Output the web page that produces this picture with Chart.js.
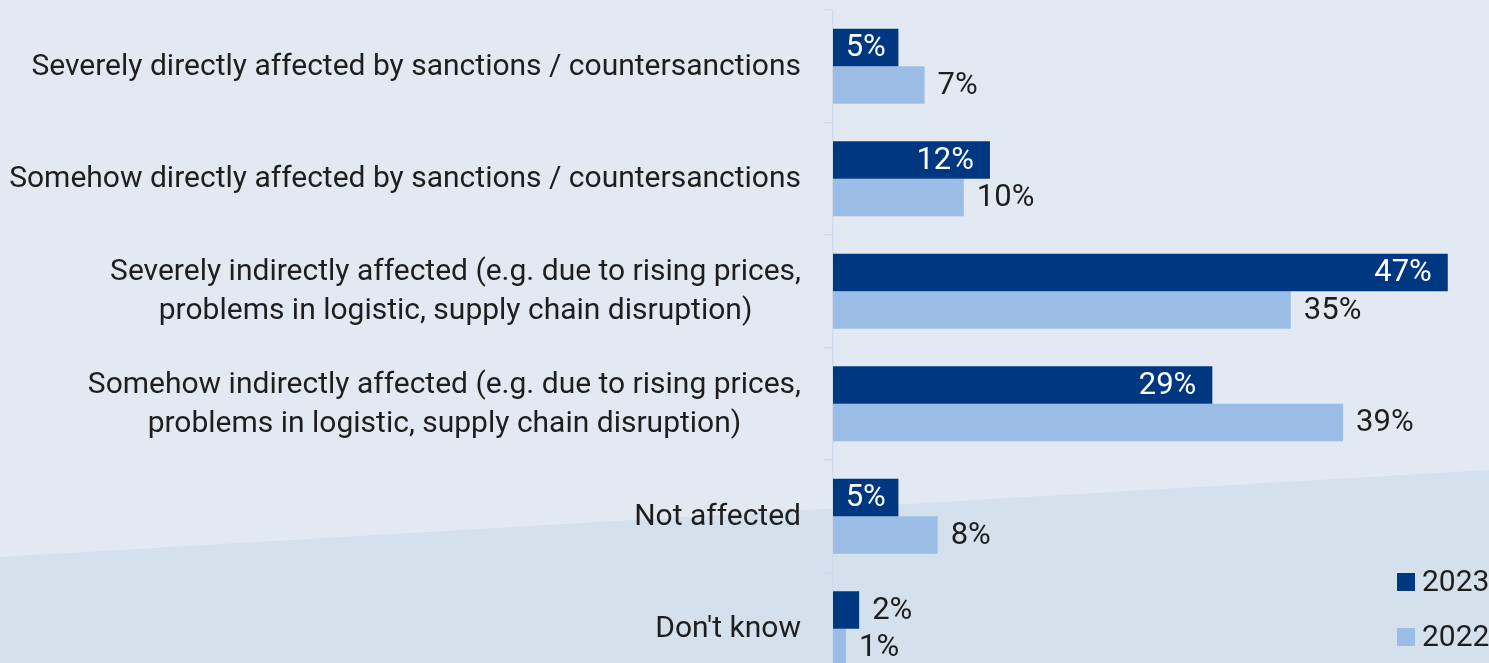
<!DOCTYPE html>
<html>
<head>
<meta charset="utf-8">
<script src="https://cdn.jsdelivr.net/npm/chart.js@4/dist/chart.umd.min.js"></script>
<style>
  html, body { margin: 0; padding: 0; overflow: hidden; background: #e3e9f3; }
  #wrap { position: relative; width: 1489px; height: 690px; }
</style>
</head>
<body>
<div id="wrap"><canvas id="impactChart"></canvas></div>
<script>
const categories = [
    'Severely directly affected by sanctions / countersanctions',
    'Somehow directly affected by sanctions / countersanctions',
    ['Severely indirectly affected (e.g. due to rising prices,', 'problems in logistic, supply chain disruption)'],
    ['Somehow indirectly affected (e.g. due to rising prices,', 'problems in logistic, supply chain disruption)'],
    'Not affected',
    "Don't know"
];
const series_labels = ['2023', '2022'];
const values_2023 = [5, 12, 47, 29, 5, 2];
const values_2022 = [7, 10, 35, 39, 8, 1];

const FONT = 'Roboto, "Noto Sans", sans-serif';
const DARK = '#003781';
const LIGHT = '#9bbde5';
const TEXT = '#1e1e1e';

// two-tone background with slanted edge
const background_plugin = {
    id: 'bg',
    beforeDraw(chart) {
        const ctx = chart.ctx;
        const w = chart.width, h = chart.height;
        ctx.save();
        ctx.fillStyle = '#e3e9f3';
        ctx.fillRect(0, 0, w, h);
        ctx.fillStyle = '#d4e0ec';
        ctx.beginPath();
        ctx.moveTo(0, 557);
        ctx.lineTo(w, 470);
        ctx.lineTo(w, h);
        ctx.lineTo(0, h);
        ctx.closePath();
        ctx.fill();
        ctx.restore();
    }
};

// category labels: block right aligned, lines centred inside the block
const category_plugin = {
    id: 'categoryLabels',
    afterDraw(chart) {
        const ctx = chart.ctx;
        const scale = chart.scales.y;
        const right = scale.right - 32;
        const line_h = 39;
        ctx.save();
        ctx.font = '30px ' + FONT;
        ctx.fillStyle = TEXT;
        ctx.textAlign = 'center';
        ctx.textBaseline = 'middle';
        chart.data.labels.forEach(function(lab, i) {
            const lines = Array.isArray(lab) ? lab : [lab];
            const max_w = Math.max.apply(null, lines.map(function(l) { return ctx.measureText(l).width; }));
            const cx = right - max_w / 2;
            const y0 = scale.getPixelForTick(i) - (lines.length - 1) * line_h / 2;
            lines.forEach(function(l, k) {
                ctx.fillText(l, cx, y0 + k * line_h + 1);
            });
        });
        ctx.restore();
    }
};

// value labels on the bars
const value_plugin = {
    id: 'values',
    afterDatasetsDraw(chart) {
        const ctx = chart.ctx;
        ctx.save();
        ctx.font = '31px ' + FONT;
        ctx.textBaseline = 'middle';
        chart.data.datasets.forEach(function(ds, i) {
            const meta = chart.getDatasetMeta(i);
            meta.data.forEach(function(bar, j) {
                const v = ds.data[j];
                const txt = v + '%';
                const tw = ctx.measureText(txt).width;
                const len = bar.x - bar.base;
                if (i === 0 && len > tw + 12) {
                    ctx.fillStyle = '#ffffff';
                    ctx.textAlign = 'right';
                    let x = bar.x - 16;
                    if (len < tw + 32) x = bar.base + len / 2 + tw / 2;
                    ctx.fillText(txt, x, bar.y + 1);
                } else {
                    ctx.fillStyle = TEXT;
                    ctx.textAlign = 'left';
                    ctx.fillText(txt, bar.x + 13, bar.y + 1);
                }
            });
        });
        ctx.restore();
    }
};

// vertical legend in the lower right corner
const legend_plugin = {
    id: 'cornerLegend',
    afterDraw(chart) {
        const ctx = chart.ctx;
        ctx.save();
        ctx.font = '30px ' + FONT;
        ctx.textBaseline = 'middle';
        ctx.textAlign = 'left';
        const ys = [582, 637];
        chart.data.datasets.forEach(function(ds, i) {
            ctx.fillStyle = ds.backgroundColor;
            ctx.fillRect(1397, ys[i] - 9, 18, 18);
            ctx.fillStyle = TEXT;
            ctx.fillText(ds.label, 1422, ys[i] + 1);
        });
        ctx.restore();
    }
};

const ctx = document.getElementById('impactChart').getContext('2d');
const impact_chart = new Chart(ctx, {
    type: 'bar',
    data: {
        labels: categories,
        datasets: [{
            label: series_labels[0],
            data: values_2023,
            backgroundColor: DARK,
            borderWidth: 0,
            categoryPercentage: 0.667,
            barPercentage: 1.0
        },
        {
            label: series_labels[1],
            data: values_2022,
            backgroundColor: LIGHT,
            borderWidth: 0,
            categoryPercentage: 0.667,
            barPercentage: 1.0
        }]
    },
    options: {
        indexAxis: 'y',
        responsive: true,
        maintainAspectRatio: false,
        animation: false,
        layout: { padding: { top: 10, right: 2, bottom: 5, left: 0 } },
        plugins: {
            legend: { display: false },
            tooltip: { enabled: false }
        },
        scales: {
            x: {
                display: false,
                min: 0,
                max: 50
            },
            y: {
                afterFit: function(scale) {
                    scale.width = 833;
                    scale.paddingTop = 0;
                    scale.paddingBottom = 0;
                },
                grid: {
                    offset: true,
                    drawOnChartArea: false,
                    drawTicks: true,
                    tickLength: 9,
                    color: '#cfdbeb',
                    lineWidth: 1.5
                },
                border: { display: true, color: '#cfdbeb', width: 1.5 },
                ticks: { display: false }
            }
        }
    },
    plugins: [background_plugin, category_plugin, value_plugin, legend_plugin]
});
</script>
</body>
</html>
